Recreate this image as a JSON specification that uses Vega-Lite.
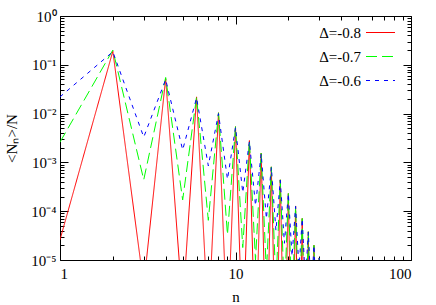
{
  "$schema": "https://vega.github.io/schema/vega-lite/v6.json",
  "width": 351,
  "height": 244,
  "autosize": "none",
  "padding": {"left": 60, "top": 16, "right": 25, "bottom": 45},
  "background": "white",
  "data": {
    "values": [
      {"n":1,"s":"Δ=-0.8","v":2.6e-5},{"n":2,"s":"Δ=-0.8","v":0.19},{"n":3,"s":"Δ=-0.8","v":3e-6},{"n":4,"s":"Δ=-0.8","v":0.052},
      {"n":5,"s":"Δ=-0.8","v":1.1e-6},{"n":6,"s":"Δ=-0.8","v":0.022},{"n":7,"s":"Δ=-0.8","v":5e-7},{"n":8,"s":"Δ=-0.8","v":0.0104},
      {"n":9,"s":"Δ=-0.8","v":3e-7},{"n":10,"s":"Δ=-0.8","v":0.0054},{"n":11,"s":"Δ=-0.8","v":2e-7},{"n":12,"s":"Δ=-0.8","v":0.0028},
      {"n":13,"s":"Δ=-0.8","v":1.2e-7},{"n":14,"s":"Δ=-0.8","v":0.00154},{"n":15,"s":"Δ=-0.8","v":8e-8},{"n":16,"s":"Δ=-0.8","v":8.1e-4},
      {"n":17,"s":"Δ=-0.8","v":5e-8},{"n":18,"s":"Δ=-0.8","v":4.4e-4},{"n":19,"s":"Δ=-0.8","v":3e-8},{"n":20,"s":"Δ=-0.8","v":2.3e-4},
      {"n":21,"s":"Δ=-0.8","v":2e-8},{"n":22,"s":"Δ=-0.8","v":1.28e-4},{"n":23,"s":"Δ=-0.8","v":1.2e-8},{"n":24,"s":"Δ=-0.8","v":7.1e-5},
      {"n":25,"s":"Δ=-0.8","v":8e-9},{"n":26,"s":"Δ=-0.8","v":3.8e-5},{"n":27,"s":"Δ=-0.8","v":5e-9},{"n":28,"s":"Δ=-0.8","v":2.0e-5},
      {"n":29,"s":"Δ=-0.8","v":3e-9},{"n":30,"s":"Δ=-0.8","v":1.1e-5},{"n":31,"s":"Δ=-0.8","v":2e-9},{"n":32,"s":"Δ=-0.8","v":6e-6},

      {"n":1,"s":"Δ=-0.7","v":2.6e-3},{"n":2,"s":"Δ=-0.7","v":0.2},{"n":3,"s":"Δ=-0.7","v":4.4e-4},{"n":4,"s":"Δ=-0.7","v":0.055},
      {"n":5,"s":"Δ=-0.7","v":1.7e-4},{"n":6,"s":"Δ=-0.7","v":0.022},{"n":7,"s":"Δ=-0.7","v":6.5e-5},{"n":8,"s":"Δ=-0.7","v":0.0104},
      {"n":9,"s":"Δ=-0.7","v":3.3e-5},{"n":10,"s":"Δ=-0.7","v":0.0054},{"n":11,"s":"Δ=-0.7","v":1.8e-5},{"n":12,"s":"Δ=-0.7","v":0.0028},
      {"n":13,"s":"Δ=-0.7","v":1e-5},{"n":14,"s":"Δ=-0.7","v":0.00154},{"n":15,"s":"Δ=-0.7","v":5.5e-6},{"n":16,"s":"Δ=-0.7","v":8.1e-4},
      {"n":17,"s":"Δ=-0.7","v":3e-6},{"n":18,"s":"Δ=-0.7","v":4.4e-4},{"n":19,"s":"Δ=-0.7","v":1.7e-6},{"n":20,"s":"Δ=-0.7","v":2.3e-4},
      {"n":21,"s":"Δ=-0.7","v":1e-6},{"n":22,"s":"Δ=-0.7","v":1.28e-4},{"n":23,"s":"Δ=-0.7","v":5.5e-7},{"n":24,"s":"Δ=-0.7","v":7.1e-5},
      {"n":25,"s":"Δ=-0.7","v":3e-7},{"n":26,"s":"Δ=-0.7","v":3.8e-5},{"n":27,"s":"Δ=-0.7","v":1.7e-7},{"n":28,"s":"Δ=-0.7","v":2.0e-5},
      {"n":29,"s":"Δ=-0.7","v":9e-8},{"n":30,"s":"Δ=-0.7","v":1.1e-5},{"n":31,"s":"Δ=-0.7","v":5e-8},{"n":32,"s":"Δ=-0.7","v":6e-6},

      {"n":1,"s":"Δ=-0.6","v":0.022},{"n":2,"s":"Δ=-0.6","v":0.185},{"n":3,"s":"Δ=-0.6","v":3.3e-3},{"n":4,"s":"Δ=-0.6","v":0.05},
      {"n":5,"s":"Δ=-0.6","v":1.8e-3},{"n":6,"s":"Δ=-0.6","v":0.021},{"n":7,"s":"Δ=-0.6","v":8.5e-4},{"n":8,"s":"Δ=-0.6","v":0.0100},
      {"n":9,"s":"Δ=-0.6","v":4.5e-4},{"n":10,"s":"Δ=-0.6","v":0.0052},{"n":11,"s":"Δ=-0.6","v":2.4e-4},{"n":12,"s":"Δ=-0.6","v":0.0027},
      {"n":13,"s":"Δ=-0.6","v":1.3e-4},{"n":14,"s":"Δ=-0.6","v":0.0015},{"n":15,"s":"Δ=-0.6","v":7e-5},{"n":16,"s":"Δ=-0.6","v":7.9e-4},
      {"n":17,"s":"Δ=-0.6","v":4e-5},{"n":18,"s":"Δ=-0.6","v":4.3e-4},{"n":19,"s":"Δ=-0.6","v":2.2e-5},{"n":20,"s":"Δ=-0.6","v":2.3e-4},
      {"n":21,"s":"Δ=-0.6","v":1.2e-5},{"n":22,"s":"Δ=-0.6","v":1.25e-4},{"n":23,"s":"Δ=-0.6","v":6.5e-6},{"n":24,"s":"Δ=-0.6","v":7e-5},
      {"n":25,"s":"Δ=-0.6","v":3.5e-6},{"n":26,"s":"Δ=-0.6","v":3.7e-5},{"n":27,"s":"Δ=-0.6","v":2e-6},{"n":28,"s":"Δ=-0.6","v":2e-5},
      {"n":29,"s":"Δ=-0.6","v":1e-6},{"n":30,"s":"Δ=-0.6","v":1.1e-5},{"n":31,"s":"Δ=-0.6","v":5e-7},{"n":32,"s":"Δ=-0.6","v":6e-6}
    ]
  },
  "layer": [
    {
      "mark": {"type": "line", "clip": true, "strokeWidth": 1},
      "encoding": {
        "x": {"field": "n", "type": "quantitative",
              "scale": {"type": "log", "domain": [1, 100], "nice": false},
              "axis": {"orient": "bottom", "values": [1, 10, 100], "tickSize": -8, "labelPadding": 14, "title": "n", "titlePadding": 8, "format": "d"}},
        "y": {"field": "v", "type": "quantitative",
              "scale": {"type": "log", "domain": [1e-5, 1], "nice": false},
              "axis": {"orient": "left", "values": [1e-5, 1e-4, 1e-3, 1e-2, 1e-1, 1], "tickSize": -8, "labelPadding": 12,
                       "labelExpr": "'10' + ['⁰','⁻¹','⁻²','⁻³','⁻⁴','⁻⁵'][round(-log(datum.value)/LN10)]",
                       "title": "<Nₙ>/N", "titlePadding": 11}},
        "color": {"field": "s", "type": "nominal",
                  "scale": {"domain": ["Δ=-0.8", "Δ=-0.7", "Δ=-0.6"], "range": ["#ff0000", "#00ff00", "#0000ff"]},
                  "legend": {"title": null}},
        "strokeDash": {"field": "s", "type": "nominal",
                       "scale": {"domain": ["Δ=-0.8", "Δ=-0.7", "Δ=-0.6"], "range": [[1, 0], [11, 5], [4, 5]]},
                       "legend": {"title": null}},
        "order": {"field": "n", "type": "quantitative"}
      }
    },
    {
      "mark": {"type": "point", "opacity": 0, "size": 0, "clip": true},
      "encoding": {
        "x": {"field": "n", "type": "quantitative", "scale": {"type": "log", "domain": [1, 100], "nice": false},
              "axis": {"orient": "top", "values": [1, 10, 100], "tickSize": -8, "labels": false, "title": null}},
        "y": {"field": "v", "type": "quantitative", "scale": {"type": "log", "domain": [1e-5, 1], "nice": false},
              "axis": {"orient": "right", "values": [1e-5, 1e-4, 1e-3, 1e-2, 1e-1, 1], "tickSize": -8, "labels": false, "title": null}}
      }
    },
    {
      "mark": {"type": "point", "opacity": 0, "size": 0, "clip": true},
      "encoding": {
        "x": {"field": "n", "type": "quantitative", "scale": {"type": "log", "domain": [1, 100], "nice": false},
              "axis": {"orient": "bottom", "values": [2,3,4,5,6,7,8,9,20,30,40,50,60,70,80,90], "tickSize": -4, "labels": false, "title": null}},
        "y": {"field": "v", "type": "quantitative", "scale": {"type": "log", "domain": [1e-5, 1], "nice": false},
              "axis": {"orient": "left", "values": [2e-5,3e-5,4e-5,5e-5,6e-5,7e-5,8e-5,9e-5,2e-4,3e-4,4e-4,5e-4,6e-4,7e-4,8e-4,9e-4,2e-3,3e-3,4e-3,5e-3,6e-3,7e-3,8e-3,9e-3,2e-2,3e-2,4e-2,5e-2,6e-2,7e-2,8e-2,9e-2,0.2,0.3,0.4,0.5,0.6,0.7,0.8,0.9], "tickSize": -4, "labels": false, "title": null}}
      }
    },
    {
      "mark": {"type": "point", "opacity": 0, "size": 0, "clip": true},
      "encoding": {
        "x": {"field": "n", "type": "quantitative", "scale": {"type": "log", "domain": [1, 100], "nice": false},
              "axis": {"orient": "top", "values": [2,3,4,5,6,7,8,9,20,30,40,50,60,70,80,90], "tickSize": -4, "labels": false, "title": null}},
        "y": {"field": "v", "type": "quantitative", "scale": {"type": "log", "domain": [1e-5, 1], "nice": false},
              "axis": {"orient": "right", "values": [2e-5,3e-5,4e-5,5e-5,6e-5,7e-5,8e-5,9e-5,2e-4,3e-4,4e-4,5e-4,6e-4,7e-4,8e-4,9e-4,2e-3,3e-3,4e-3,5e-3,6e-3,7e-3,8e-3,9e-3,2e-2,3e-2,4e-2,5e-2,6e-2,7e-2,8e-2,9e-2,0.2,0.3,0.4,0.5,0.6,0.7,0.8,0.9], "tickSize": -4, "labels": false, "title": null}}
      }
    }
  ],
  "resolve": {"axis": {"x": "independent", "y": "independent"}},
  "config": {
    "font": "Liberation Serif",
    "view": {"stroke": "black", "strokeWidth": 1},
    "axis": {"grid": false, "domain": false, "tickColor": "black", "tickWidth": 1, "labelColor": "black", "titleColor": "black",
             "labelFont": "Liberation Serif", "titleFont": "Liberation Serif", "labelFontSize": 15, "titleFontSize": 15, "titleFontWeight": "normal"},
    "legend": {"orient": "none", "legendX": 305, "legendY": 1, "labelAlign": "right", "labelOffset": -35, "symbolSize": 841,
               "symbolStrokeWidth": 1.2, "labelFontSize": 15, "rowPadding": -8.5, "padding": 0,
               "labelFont": "Liberation Serif", "labelColor": "black"}
  }
}
